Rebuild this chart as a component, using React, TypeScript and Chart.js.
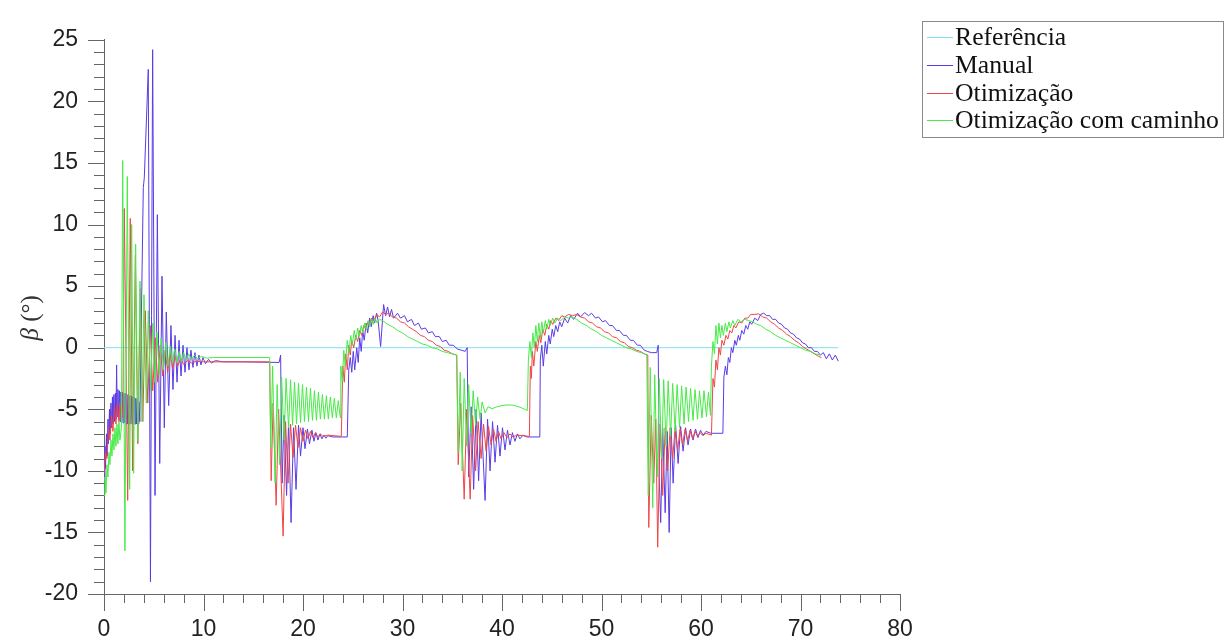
import React, { useEffect, useRef } from "react";
import { Chart, registerables } from "chart.js";

Chart.register(...registerables);

const legendLabels = ["Referência", "Manual", "Otimização", "Otimização com caminho"];
const seriesColors = ["#7fdfee", "#5a3ce6", "#f04646", "#48ea48"];

const xMin = 0;
const xMax = 80;
const xMajorStep = 10;
const xMinorStep = 2;
const yMin = -20;
const yMax = 25;
const yMajorStep = 5;
const yMinorStep = 1;
const yTitleSymbol = "β";
const yTitleUnit = " (°)";

type Pt = [number, number];

const referencia: Pt[] = [[0, 0], [73.8, 0]];

const manual: Pt[] = [
  [0, -10.5], [0.1, -8.0], [0.15, -9.8], [0.25, -7.0], [0.3, -8.8], [0.4, -5.8], [0.45, -7.8], [0.55, -5.0], [0.6, -7.0],
  [0.7, -4.5], [0.75, -6.5], [0.85, -4.0], [0.9, -6.2], [1.0, -3.8], [1.05, -6.0], [1.15, -3.7], [1.2, -5.8], [1.27, -1.4],
  [1.33, -5.6], [1.4, -3.4], [1.47, -5.8], [1.55, -3.5], [1.62, -6.0], [1.7, -3.6], [1.77, -6.1], [1.85, -3.6], [1.92, -6.1],
  [2.0, -3.7], [2.07, -6.1], [2.15, -3.7], [2.22, -6.2], [2.3, -3.8], [2.37, -6.2], [2.45, -3.8], [2.52, -6.2], [2.6, -3.9],
  [2.67, -6.2], [2.75, -3.9], [2.82, -6.2], [2.9, -4.0], [2.97, -6.2], [3.05, -4.0], [3.12, -6.2], [3.2, -4.1], [3.27, -6.2],
  [3.35, -4.2], [3.42, -6.2], [3.5, -4.4], [3.6, -6.0],
  [3.95, 13.0], [4.05, 13.8], [4.45, 22.6], [4.67, -19.0], [4.89, 24.2], [5.13, -12.0], [5.36, 10.8], [5.6, -9.4],
  [5.83, 5.8], [6.06, -6.5], [6.26, 2.9], [6.5, -4.7], [6.73, 1.8], [6.93, -3.4], [7.14, 1.0], [7.34, -2.8], [7.54, 0.6],
  [7.74, -2.3], [7.94, 0.2], [8.14, -2.0], [8.34, 0.0], [8.54, -1.8], [8.74, -0.2], [8.94, -1.6], [9.14, -0.4], [9.34, -1.5],
  [9.54, -0.6], [9.74, -1.4], [9.94, -0.8], [10.2, -1.3], [10.5, -0.95], [10.8, -1.25], [11.2, -1.05], [12, -1.15], [14, -1.15],
  [17.6, -1.2],
  [17.75, -0.6], [17.9, -11.0], [18.1, -5.5], [18.35, -12.0], [18.55, -6.0], [18.8, -14.2], [19.05, -6.5], [19.3, -11.5],
  [19.55, -6.3], [19.75, -8.8], [20.0, -6.5], [20.2, -8.2], [20.45, -6.6], [20.65, -7.8], [20.9, -6.7], [21.1, -7.6],
  [21.3, -6.9], [21.5, -7.5], [21.7, -7.0], [21.9, -7.4], [22.1, -7.1], [22.3, -7.35], [22.5, -7.15], [23, -7.25], [24.45, -7.25],
  [24.6, -1.8], [24.75, -0.8], [24.9, -2.0], [25.05, -0.3], [25.2, -1.8], [25.4, 0.0], [25.55, -1.2], [25.7, 0.8], [25.85, -0.3],
  [26.0, 1.4], [26.15, 0.6], [26.35, 2.0], [26.5, 1.2], [26.7, 2.4], [26.85, 1.7], [27.05, 2.6], [27.2, 2.0], [27.4, 2.8],
  [27.55, 2.2], [27.8, 0.1], [28.1, 3.5], [28.3, 2.6], [28.5, 3.3], [28.7, 2.5], [28.9, 3.1], [29.1, 2.4], [29.5, 2.8],
  [29.8, 2.4], [30.2, 2.6], [30.5, 2.1], [30.9, 2.3], [31.2, 1.8], [31.6, 2.0], [31.9, 1.5], [32.3, 1.6], [32.6, 1.2],
  [33.0, 1.3], [33.3, 0.9], [33.7, 0.9], [34.0, 0.5], [34.4, 0.6], [34.7, 0.2], [35.1, 0.2], [35.5, -0.1], [35.9, -0.2],
  [36.3, -0.3], [36.5, 0.0],
  [36.65, -10.5], [36.9, -4.8], [37.15, -11.5], [37.4, -5.0], [37.65, -10.8], [37.9, -5.3], [38.3, -12.4], [38.55, -5.8],
  [38.8, -10.0], [39.05, -6.0], [39.3, -9.3], [39.55, -6.3], [39.8, -8.8], [40.05, -6.5], [40.3, -8.3], [40.55, -6.7],
  [40.8, -7.9], [41.05, -6.9], [41.3, -7.6], [41.55, -7.0], [41.8, -7.4], [42.1, -7.1], [42.5, -7.25], [43.8, -7.25],
  [43.85, -1.0], [44.0, 0.2], [44.15, -1.5], [44.35, 0.5], [44.5, -0.5], [44.7, 1.0], [44.85, 0.3], [45.05, 1.5], [45.2, 0.9],
  [45.4, 1.8], [45.6, 1.3], [45.8, 2.1], [46.0, 1.7], [46.3, 2.4], [46.6, 2.0], [46.9, 2.6], [47.2, 2.3], [47.6, 2.8],
  [47.9, 2.5], [48.3, 2.85], [48.7, 2.6], [49.0, 2.8], [49.4, 2.4], [49.7, 2.5], [50.1, 2.1], [50.4, 2.2], [50.8, 1.8],
  [51.1, 1.8], [51.5, 1.4], [51.8, 1.4], [52.2, 1.0], [52.5, 1.0], [52.9, 0.6], [53.2, 0.6], [53.6, 0.2], [53.9, 0.2],
  [54.3, -0.2], [54.6, -0.3], [55.0, -0.4], [55.55, -0.4], [55.7, 0.2],
  [55.8, -10.5], [55.95, -14.2], [56.15, -6.5], [56.4, -13.4], [56.6, -6.8], [56.8, -15.0], [57.0, -6.5], [57.2, -11.0],
  [57.45, -6.3], [57.7, -9.4], [57.95, -6.4], [58.2, -8.4], [58.45, -6.5], [58.7, -7.9], [58.95, -6.6], [59.2, -7.5],
  [59.45, -6.6], [59.7, -7.3], [59.95, -6.7], [60.2, -7.1], [60.5, -6.8], [61.0, -6.95], [62.2, -6.95],
  [62.3, -2.4], [62.45, -1.5], [62.6, -2.2], [62.75, -0.8], [62.9, -1.2], [63.05, 0.0], [63.2, -0.4], [63.4, 0.6], [63.55, 0.2],
  [63.75, 1.0], [63.9, 0.6], [64.1, 1.4], [64.3, 1.1], [64.5, 1.8], [64.7, 1.5], [64.9, 2.1], [65.1, 1.9], [65.4, 2.4],
  [65.7, 2.2], [66.0, 2.7], [66.3, 2.8], [66.6, 2.6], [66.9, 2.6], [67.2, 2.3], [67.5, 2.3], [67.8, 2.0], [68.1, 1.9],
  [68.4, 1.6], [68.7, 1.5], [69.0, 1.2], [69.3, 1.1], [69.6, 0.8], [69.9, 0.7], [70.2, 0.4], [70.5, 0.3], [70.8, 0.0],
  [71.1, 0.0], [71.4, -0.3], [71.7, -0.3], [72.0, -0.6], [72.3, -0.4], [72.6, -0.9], [72.9, -0.5], [73.2, -1.0], [73.5, -0.6],
  [73.8, -1.1],
];

const otimizacao: Pt[] = [
  [0, -10.2], [0.15, -8.5], [0.3, -9.0], [0.45, -6.5], [0.6, -7.5], [0.75, -5.5], [0.9, -6.8], [1.05, -4.8], [1.2, -6.2],
  [1.35, -4.6], [1.5, -6.0], [1.6, -4.5], [1.75, -5.8], [1.9, -5.5],
  [2.04, 11.3], [2.38, -12.4], [2.64, 10.5], [2.88, -10.0], [3.15, 7.5], [3.4, -7.8], [3.65, 4.8], [3.9, -6.0], [4.15, 3.0],
  [4.4, -4.5], [4.65, 1.8], [4.9, -3.5], [5.15, 0.8], [5.4, -2.8], [5.65, 0.2], [5.9, -2.3], [6.15, -0.2], [6.4, -2.0],
  [6.65, -0.5], [6.9, -1.7], [7.15, -0.7], [7.4, -1.5], [7.7, -0.9], [8.0, -1.35], [8.4, -1.05], [8.8, -1.25], [9.3, -1.1],
  [10, -1.15], [16.65, -1.15],
  [16.8, -10.8], [17.0, -4.5], [17.3, -12.8], [17.55, -5.0], [18.0, -15.3], [18.25, -6.0], [18.5, -11.0], [18.75, -6.2],
  [19.0, -8.9], [19.25, -6.3], [19.5, -8.1], [19.75, -6.5], [20.0, -7.6], [20.25, -6.7], [20.5, -7.4], [20.75, -6.8],
  [21.0, -7.3], [21.25, -6.9], [21.5, -7.25], [21.75, -7.0], [22.0, -7.2], [22.5, -7.1], [23.85, -7.2],
  [24.0, -1.5], [24.15, -2.8], [24.3, -0.5], [24.45, -1.8], [24.6, 0.2], [24.75, -0.6], [24.9, 0.6], [25.1, 0.0], [25.3, 1.0],
  [25.5, 0.5], [25.7, 1.4], [25.9, 1.0], [26.1, 1.8], [26.3, 1.5], [26.5, 2.1], [26.7, 1.9], [26.9, 2.4], [27.1, 2.2],
  [27.4, 2.7], [27.7, 2.5], [28.0, 2.9], [28.3, 2.7], [28.6, 2.8], [29.0, 2.5], [29.4, 2.4], [29.8, 2.1], [30.2, 2.0],
  [30.6, 1.7], [31.0, 1.5], [31.4, 1.3], [31.8, 1.0], [32.2, 0.9], [32.6, 0.6], [33.0, 0.5], [33.4, 0.2], [33.8, 0.1],
  [34.2, -0.2], [34.6, -0.3], [35.0, -0.5], [35.45, -0.6],
  [35.6, -9.5], [35.85, -4.5], [36.2, -12.3], [36.45, -5.0], [36.8, -12.3], [37.05, -5.5], [37.35, -10.0], [37.6, -6.0],
  [37.9, -9.0], [38.15, -6.2], [38.4, -8.4], [38.65, -6.4], [38.9, -7.9], [39.15, -6.6], [39.4, -7.6], [39.65, -6.8],
  [39.9, -7.4], [40.2, -6.9], [40.5, -7.3], [40.8, -7.0], [41.1, -7.25], [41.5, -7.1], [42.75, -7.2],
  [42.85, -1.5], [42.95, -2.5], [43.05, -0.3], [43.2, -1.5], [43.4, 0.5], [43.55, -0.3], [43.75, 1.0], [43.9, 0.4], [44.1, 1.5],
  [44.3, 1.0], [44.5, 1.9], [44.7, 1.5], [44.9, 2.2], [45.1, 1.9], [45.4, 2.4], [45.7, 2.2], [46.0, 2.6], [46.3, 2.5],
  [46.7, 2.7], [47.1, 2.6], [47.5, 2.7], [47.9, 2.5], [48.3, 2.4], [48.7, 2.1], [49.1, 2.0], [49.5, 1.7], [49.9, 1.6],
  [50.3, 1.3], [50.7, 1.2], [51.1, 0.9], [51.5, 0.8], [51.9, 0.5], [52.3, 0.4], [52.7, 0.1], [53.1, 0.0], [53.5, -0.2],
  [53.9, -0.3], [54.3, -0.5], [54.65, -0.6],
  [54.75, -14.6], [55.0, -5.5], [55.25, -11.0], [55.45, -5.8], [55.65, -16.2], [55.9, -6.2], [56.15, -12.0], [56.4, -6.5],
  [56.65, -10.0], [56.9, -6.5], [57.15, -9.0], [57.4, -6.5], [57.65, -8.3], [57.9, -6.6], [58.15, -7.9], [58.4, -6.6],
  [58.65, -7.6], [58.9, -6.7], [59.15, -7.4], [59.4, -6.8], [59.65, -7.2], [59.9, -6.9], [60.2, -7.15], [60.5, -6.95],
  [61.05, -7.1],
  [61.2, -2.5], [61.35, -3.2], [61.5, -1.0], [61.65, -1.8], [61.8, 0.0], [61.95, -0.6], [62.1, 0.6], [62.3, 0.2], [62.5, 1.0],
  [62.7, 0.7], [62.9, 1.4], [63.1, 1.2], [63.3, 1.8], [63.5, 1.6], [63.8, 2.1], [64.1, 2.0], [64.4, 2.4], [64.7, 2.4],
  [65.0, 2.7], [65.4, 2.7], [65.8, 2.75], [66.2, 2.5], [66.6, 2.4], [67.0, 2.1], [67.4, 1.9], [67.8, 1.6], [68.2, 1.4],
  [68.6, 1.1], [69.0, 0.9], [69.4, 0.6], [69.8, 0.4], [70.2, 0.1], [70.6, -0.1], [71.0, -0.3], [71.4, -0.5], [71.8, -0.7],
  [72.1, -0.8],
];

const otimizacaoCaminho: Pt[] = [
  [0, -12.0], [0.1, -10.5], [0.2, -11.8], [0.3, -9.5], [0.4, -10.5], [0.5, -8.5], [0.6, -9.5], [0.7, -7.5], [0.8, -8.8],
  [0.9, -7.0], [1.0, -8.3], [1.1, -6.5], [1.2, -8.0], [1.3, -6.2], [1.4, -7.8], [1.5, -6.0], [1.6, -7.5], [1.75, -6.5],
  [1.88, 15.2], [2.1, -16.5], [2.34, 13.9], [2.58, -11.5], [2.78, 10.0], [2.98, -10.2], [3.18, 8.4], [3.4, -7.6], [3.62, 5.4],
  [3.82, -6.0], [4.02, 4.3], [4.25, -4.5], [4.45, 3.0], [4.68, -3.5], [4.9, 2.0], [5.1, -2.8], [5.32, 1.3], [5.55, -2.2],
  [5.75, 0.8], [5.98, -1.8], [6.2, 0.4], [6.42, -1.5], [6.65, 0.1], [6.87, -1.3], [7.1, -0.1], [7.32, -1.2], [7.55, -0.3],
  [7.77, -1.1], [8.0, -0.4], [8.25, -1.0], [8.5, -0.5], [8.8, -0.95], [9.1, -0.6], [9.4, -0.9], [9.8, -0.7], [10.3, -0.85],
  [11, -0.8], [16.65, -0.8],
  [16.75, -8.1], [16.95, -1.5], [17.2, -11.0], [17.4, -3.0], [17.65, -9.5], [17.85, -2.4], [18.1, -7.5], [18.3, -2.5],
  [18.55, -6.5], [18.75, -2.6], [18.95, -6.3], [19.15, -2.8], [19.35, -6.2], [19.55, -2.9], [19.75, -6.1], [19.95, -3.0],
  [20.15, -6.0], [20.35, -3.2], [20.55, -6.0], [20.75, -3.3], [20.95, -5.9], [21.15, -3.5], [21.35, -5.9], [21.55, -3.6],
  [21.75, -5.8], [21.95, -3.8], [22.15, -5.8], [22.35, -3.9], [22.55, -5.8], [22.75, -4.0], [22.95, -5.7], [23.15, -4.1],
  [23.35, -5.7], [23.55, -4.3], [23.75, -5.7],
  [23.8, -1.5], [23.95, -2.8], [24.1, -0.2], [24.25, -1.5], [24.45, 0.6], [24.6, -0.4], [24.8, 1.0], [24.95, 0.2], [25.15, 1.4],
  [25.3, 0.6], [25.5, 1.6], [25.65, 0.9], [25.85, 1.8], [26.0, 1.2], [26.2, 2.0], [26.35, 1.5], [26.55, 2.2], [26.7, 1.7],
  [26.9, 2.3], [27.05, 1.9], [27.25, 2.4], [27.45, 2.0], [27.7, 2.3], [28.0, 2.2], [28.5, 1.9], [29.0, 1.7], [29.5, 1.4],
  [30.0, 1.2], [30.5, 0.9], [31.0, 0.7], [31.5, 0.5], [32.0, 0.3], [32.5, 0.2], [33.0, 0.0], [33.5, -0.1], [34.0, -0.3],
  [34.5, -0.4], [35.0, -0.5], [35.45, -0.6],
  [35.6, -8.5], [35.8, -2.0], [36.0, -10.0], [36.2, -2.5], [36.45, -8.0], [36.65, -3.0], [36.9, -7.0], [37.1, -3.5],
  [37.35, -6.3], [37.55, -4.0], [37.8, -5.8], [38.0, -4.4], [38.3, -5.3], [38.6, -4.8], [39.0, -4.95], [39.5, -4.8],
  [40.0, -4.7], [40.5, -4.65], [41.0, -4.65], [41.5, -4.75], [42.0, -4.9], [42.55, -5.1],
  [42.65, -1.0], [42.8, 0.5], [42.95, -0.8], [43.1, 1.2], [43.25, 0.0], [43.4, 1.8], [43.55, 0.5], [43.7, 2.0], [43.85, 0.8],
  [44.0, 2.1], [44.15, 1.2], [44.35, 2.2], [44.5, 1.5], [44.7, 2.3], [44.85, 1.8], [45.1, 2.4], [45.3, 2.0], [45.6, 2.4],
  [45.9, 2.2], [46.3, 2.5], [46.7, 2.4], [47.0, 2.5], [47.5, 2.3], [48.0, 2.0], [48.5, 1.8], [49.0, 1.5], [49.5, 1.3],
  [50.0, 1.0], [50.5, 0.8], [51.0, 0.6], [51.5, 0.4], [52.0, 0.2], [52.5, 0.0], [53.0, -0.1], [53.5, -0.3], [54.0, -0.4],
  [54.55, -0.6],
  [54.7, -12.0], [54.9, -1.6], [55.15, -13.0], [55.35, -2.2], [55.6, -10.5], [55.8, -2.5], [56.05, -9.0], [56.25, -2.6],
  [56.5, -8.0], [56.7, -2.7], [56.95, -7.2], [57.15, -2.9], [57.4, -6.8], [57.6, -3.0], [57.85, -6.5], [58.05, -3.1],
  [58.3, -6.2], [58.5, -3.2], [58.75, -6.0], [58.95, -3.3], [59.2, -5.9], [59.4, -3.4], [59.65, -5.8], [59.85, -3.5],
  [60.1, -5.7], [60.3, -3.5], [60.55, -5.6], [60.75, -3.6], [60.95, -5.5],
  [61.05, -1.5], [61.2, 0.5], [61.35, -0.5], [61.5, 1.8], [61.65, 0.3], [61.8, 2.0], [61.95, 0.8], [62.1, 1.8], [62.25, 1.0],
  [62.45, 2.0], [62.6, 1.3], [62.8, 2.1], [62.95, 1.6], [63.2, 2.2], [63.4, 1.8], [63.7, 2.3], [64.0, 2.1], [64.4, 2.3],
  [64.8, 2.2], [65.2, 2.1], [65.6, 1.9], [66.0, 1.8], [66.5, 1.5], [67.0, 1.3], [67.5, 1.0], [68.0, 0.8], [68.5, 0.6],
  [69.0, 0.4], [69.5, 0.2], [70.0, 0.0], [70.5, -0.2], [71.0, -0.3], [71.5, -0.5], [72.0, -0.6],
];

const seriesData: Pt[][] = [referencia, manual, otimizacao, otimizacaoCaminho];

const tickMarksPlugin = {
  id: "tickMarks",
  afterDraw(chart: any) {
    const { ctx, chartArea } = chart;
    const xs = chart.scales.x;
    const ys = chart.scales.y;
    ctx.save();
    ctx.strokeStyle = "#666666";
    ctx.lineWidth = 1;
    ctx.beginPath();
    for (let v = yMin; v <= yMax; v += yMinorStep) {
      const py = Math.round(ys.getPixelForValue(v)) + 0.5;
      const len = v % yMajorStep === 0 ? 16 : 10;
      ctx.moveTo(chartArea.left - len, py);
      ctx.lineTo(chartArea.left, py);
    }
    for (let v = xMin; v <= xMax; v += xMinorStep) {
      const px = Math.round(xs.getPixelForValue(v)) + 0.5;
      const len = v % xMajorStep === 0 ? 17 : 9;
      ctx.moveTo(px, chartArea.bottom);
      ctx.lineTo(px, chartArea.bottom + len);
    }
    ctx.stroke();
    ctx.restore();
  },
};

const yTitlePlugin = {
  id: "yTitle",
  afterDraw(chart: any) {
    const { ctx, chartArea } = chart;
    const cy = (chartArea.top + chartArea.bottom) / 2 + 1;
    const fontSym = "italic 25px 'Liberation Serif'";
    const fontUnit = "25px 'Liberation Serif'";
    ctx.save();
    ctx.font = fontSym;
    const w1 = ctx.measureText(yTitleSymbol).width;
    ctx.font = fontUnit;
    const w2 = ctx.measureText(yTitleUnit).width;
    ctx.translate(38, cy);
    ctx.rotate(-Math.PI / 2);
    ctx.fillStyle = "#333333";
    ctx.textBaseline = "alphabetic";
    ctx.textAlign = "left";
    const start = -(w1 + w2) / 2;
    ctx.font = fontSym;
    ctx.fillText(yTitleSymbol, start, 0);
    ctx.font = fontUnit;
    ctx.fillText(yTitleUnit, start + w1, 0);
    ctx.restore();
  },
};

const boxLegendPlugin = {
  id: "boxLegend",
  afterDraw(chart: any) {
    const { ctx } = chart;
    const left = 922.5;
    const top = 21.5;
    const width = 301;
    const height = 116;
    const rowH = 27.8;
    ctx.save();
    ctx.lineWidth = 1;
    ctx.strokeStyle = "#8a8a8a";
    ctx.strokeRect(left, top, width, height);
    ctx.font = "25.7px 'Liberation Serif'";
    ctx.textBaseline = "alphabetic";
    ctx.textAlign = "left";
    legendLabels.forEach((label, i) => {
      const base = 45 + i * rowH;
      const ly = Math.round(base - 8) + 0.5;
      ctx.strokeStyle = seriesColors[i];
      ctx.beginPath();
      ctx.moveTo(927, ly);
      ctx.lineTo(953, ly);
      ctx.stroke();
      ctx.fillStyle = "#111111";
      ctx.fillText(label, 955, base);
    });
    ctx.restore();
  },
};

export default function App() {
  const canvasRef = useRef<HTMLCanvasElement | null>(null);

  useEffect(() => {
    if (!canvasRef.current) return;
    const chart = new Chart(canvasRef.current, {
      type: "line",
      data: {
        datasets: seriesData.map((pts, i) => ({
          label: legendLabels[i],
          data: pts.map(([x, y]) => ({ x, y })),
          borderColor: seriesColors[i],
          backgroundColor: seriesColors[i],
          borderWidth: 1,
          pointRadius: 0,
          tension: 0,
          fill: false,
          order: seriesData.length - i,
        })),
      },
      options: {
        animation: false,
        responsive: true,
        maintainAspectRatio: false,
        layout: { padding: { top: 23, right: 325, bottom: 0, left: 0 } },
        plugins: {
          legend: { display: false },
          tooltip: { enabled: false },
        },
        scales: {
          x: {
            type: "linear",
            min: xMin,
            max: xMax,
            grid: { display: false, drawTicks: false },
            border: { display: true, color: "#666666", width: 1 },
            ticks: {
              stepSize: xMajorStep,
              padding: 22,
              color: "#222222",
              font: { family: "'Liberation Sans'", size: 23 },
              maxRotation: 0,
            },
            afterFit: (scale: any) => {
              scale.height = 48;
            },
          },
          y: {
            type: "linear",
            min: yMin,
            max: yMax,
            grid: { display: false, drawTicks: false },
            border: { display: true, color: "#666666", width: 1 },
            ticks: {
              stepSize: yMajorStep,
              padding: 26,
              color: "#222222",
              font: { family: "'Liberation Sans'", size: 23 },
            },
            afterFit: (scale: any) => {
              scale.width = 104;
            },
          },
        },
      },
      plugins: [tickMarksPlugin, yTitlePlugin, boxLegendPlugin],
    });
    return () => chart.destroy();
  }, []);

  return (
    <div style={{ position: "fixed", left: 0, top: 0, width: 1225, height: 642, background: "#ffffff" }}>
      <canvas ref={canvasRef} />
    </div>
  );
}
